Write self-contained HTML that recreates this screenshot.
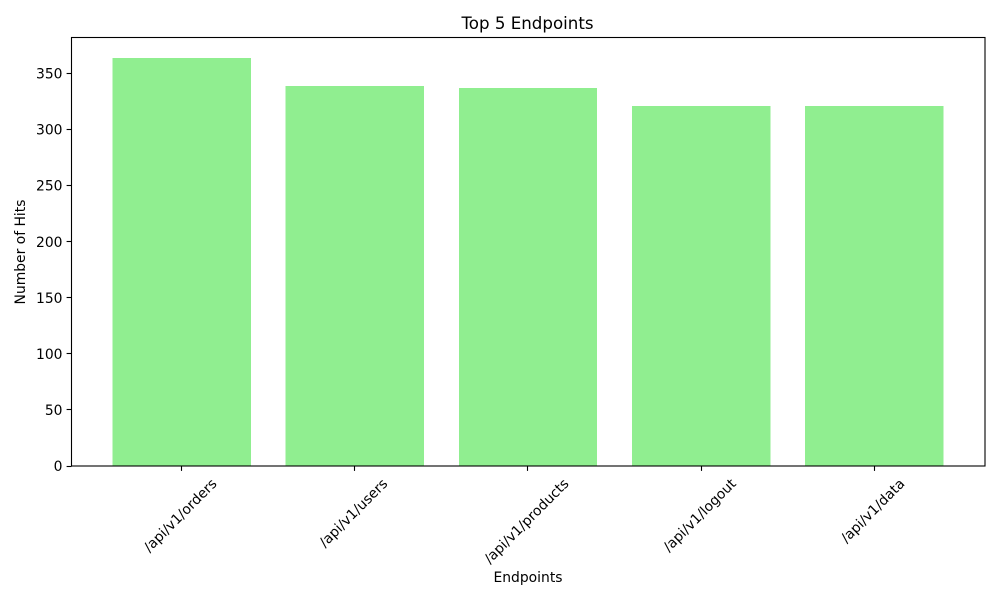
<!DOCTYPE html>
<html>
<head>
<meta charset="utf-8">
<style>
html,body{margin:0;padding:0;background:#fff;}
svg{display:block;}
text{font-family:"DejaVu Sans","Liberation Sans",sans-serif;fill:#000;}
</style>
</head>
<body>
<svg id="chart" width="1000" height="600" viewBox="0 0 1000 600" xmlns="http://www.w3.org/2000/svg">
<rect x="0" y="0" width="1000" height="600" fill="#fff"/>
<g id="bars" shape-rendering="crispEdges"></g>
<g id="y-axis"></g>
<g id="x-axis"></g>
<rect x="71.5" y="37.5" width="913.5" height="428.5" fill="none" stroke="#000" stroke-width="1.1"/>
<text x="527.5" y="29" font-size="16.67" text-anchor="middle">Top 5 Endpoints</text>
<text x="528" y="582" font-size="13.89" text-anchor="middle">Endpoints</text>
<text transform="translate(25,252) rotate(-90)" font-size="13.89" text-anchor="middle">Number of Hits</text>
</svg>
<script>
const categories = ['/api/v1/orders', '/api/v1/users', '/api/v1/products', '/api/v1/logout', '/api/v1/data'];
const hits = [364, 339, 337, 321, 321];
const yTicks = [0, 50, 100, 150, 200, 250, 300, 350];

const NS = 'http://www.w3.org/2000/svg';
const plot = { left: 71, right: 985, top: 37.5, bottom: 466 };
const barWidthUnits = 0.8;

function xDomain() {
  const lo = -barWidthUnits / 2;
  const hi = categories.length - 1 + barWidthUnits / 2;
  const pad = (hi - lo) * 0.05;
  return [lo - pad, hi + pad];
}
function xScale(i) {
  const d = xDomain();
  return plot.left + (i - d[0]) / (d[1] - d[0]) * (plot.right - plot.left);
}
function yScale(v) {
  const max = Math.max.apply(null, hits) * 1.05;
  return plot.bottom - v / max * (plot.bottom - plot.top);
}
function make(tag, attrs, parent) {
  const el = document.createElementNS(NS, tag);
  Object.keys(attrs).forEach(function (k) { el.setAttribute(k, attrs[k]); });
  parent.appendChild(el);
  return el;
}

const barsGroup = document.getElementById('bars');
const yGroup = document.getElementById('y-axis');
const xGroup = document.getElementById('x-axis');

hits.forEach(function (v, i) {
  const x0 = xScale(i - barWidthUnits / 2);
  const x1 = xScale(i + barWidthUnits / 2);
  const bar = make('rect', { x: x0, y: yScale(v), width: x1 - x0, height: plot.bottom - yScale(v), fill: '#90ee90' }, barsGroup);
  
  
});

yTicks.forEach(function (t) {
  const y = yScale(t);
  const py = Math.floor(y) + 0.5;
  const tick = make('line', { x1: plot.left - 4.4, x2: plot.left + 0.5, y1: py, y2: py, stroke: '#000', 'stroke-width': 1.1 }, yGroup);
  
  
  const label = make('text', { x: plot.left - 8.5, y: y + 5, 'font-size': 13.89, 'text-anchor': 'end' }, yGroup);
  label.textContent = String(t);
  
  
});

categories.forEach(function (c, i) {
  const x = xScale(i);
  const px = Math.floor(x) + 0.5;
  const tick = make('line', { x1: px, x2: px, y1: plot.bottom, y2: plot.bottom + 4.9, stroke: '#000', 'stroke-width': 1.1 }, xGroup);
  
  
  const label = make('text', { 'font-size': 13.89, 'text-anchor': 'middle' }, xGroup);
  label.textContent = c;
  
  
  const w = label.getComputedTextLength();
  const h = 16.2;
  const half = (w + h) * Math.SQRT1_2 / 2;
  const cy = plot.bottom + 9.5 + half;
  label.setAttribute('transform', 'translate(' + (x - 1.5) + ',' + cy + ') rotate(-45) translate(0,4.6)');
});
</script>
</body>
</html>
